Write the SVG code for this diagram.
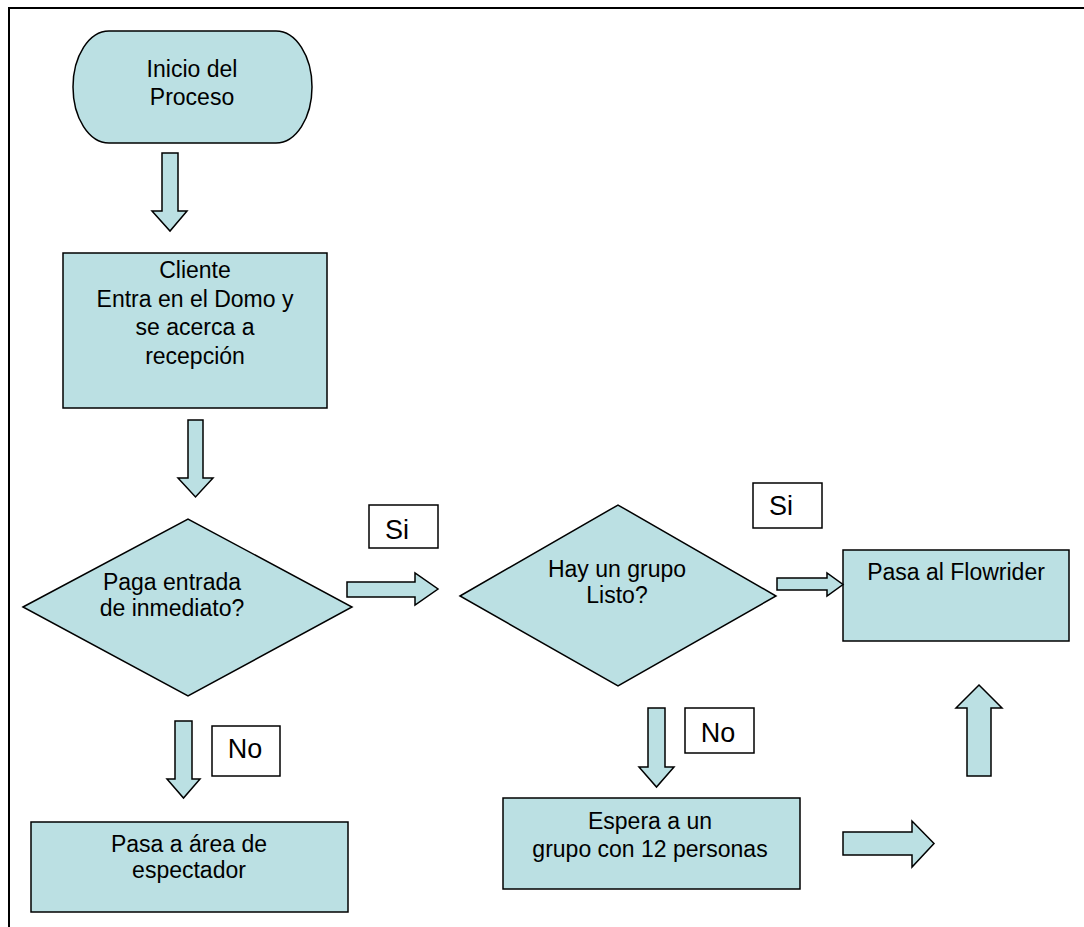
<svg xmlns="http://www.w3.org/2000/svg" width="1084" height="927" viewBox="0 0 1084 927">
<style>
.shape{fill:#BBE0E3;stroke:#000;stroke-width:1.5}
.arrow{fill:#BBE0E3;stroke:#000;stroke-width:1.5;stroke-linejoin:miter}
.lbl{fill:#fff;stroke:#000;stroke-width:1.5}
text{font-family:"Liberation Sans",Arial,sans-serif;fill:#000}
.t{font-size:23px;text-anchor:middle}
.lt{font-size:27px;text-anchor:middle}
</style>
<rect x="0" y="0" width="1084" height="927" fill="#fff"/>
<path d="M9 927 V8 H1084" fill="none" stroke="#000" stroke-width="2"/>

<g id="inicio">
<rect class="shape" x="73" y="31" width="239" height="112" rx="36" ry="56"/>
<text class="t" x="192" y="77">Inicio del</text>
<text class="t" x="192" y="105">Proceso</text>
</g>

<g id="cliente">
<rect class="shape" x="63" y="253" width="264" height="155"/>
<text class="t" x="195" y="278">Cliente</text>
<text class="t" x="195" y="306.5">Entra en el Domo y</text>
<text class="t" x="195" y="335">se acerca a</text>
<text class="t" x="195" y="363.5">recepción</text>
</g>

<g id="paga">
<polygon class="shape" points="23,607 188,519 352,607 188,696"/>
<text class="t" x="172" y="590">Paga entrada</text>
<text class="t" x="172" y="616">de inmediato?</text>
</g>

<g id="grupo">
<polygon class="shape" points="460,596 618,505 776,596 618,686"/>
<text class="t" x="617" y="577">Hay un grupo</text>
<text class="t" x="617" y="603">Listo?</text>
</g>

<g id="flowrider">
<rect class="shape" x="843" y="550" width="226" height="91"/>
<text class="t" x="956" y="580">Pasa al Flowrider</text>
</g>

<g id="espera">
<rect class="shape" x="503" y="798" width="297" height="91"/>
<text class="t" x="650" y="829">Espera a un</text>
<text class="t" x="650" y="857">grupo con 12 personas</text>
</g>

<g id="espectador">
<rect class="shape" x="31" y="822" width="317" height="90"/>
<text class="t" x="189" y="852">Pasa a área de</text>
<text class="t" x="189" y="878">espectador</text>
</g>

<g id="label-si-1">
<rect class="lbl" x="369" y="505" width="69" height="43"/>
<text class="lt" x="397" y="539">Si</text>
</g>
<g id="label-si-2">
<rect class="lbl" x="753" y="483" width="69" height="45"/>
<text class="lt" x="781" y="515">Si</text>
</g>
<g id="label-no-1">
<rect class="lbl" x="212" y="726" width="68" height="50"/>
<text class="lt" x="245" y="758">No</text>
</g>
<g id="label-no-2">
<rect class="lbl" x="685" y="708" width="69" height="45"/>
<text class="lt" x="718" y="742">No</text>
</g>

<g id="connectors">
<polygon class="arrow" points="162,153 178,153 178,211 187,211 170,231 152,211 162,211"/>
<polygon class="arrow" points="188,420 203,420 203,478 213,478 195.5,497 178,478 188,478"/>
<polygon class="arrow" points="347,582 415,582 415,573 438,589 415,605 415,597 347,597"/>
<polygon class="arrow" points="777,578 827,578 827,573 843,584.5 827,596 827,590 777,590"/>
<polygon class="arrow" points="175,721 192,721 192,779 200,779 183.5,798 167,779 175,779"/>
<polygon class="arrow" points="648,708 665,708 665,767 674,767 656.5,787 639,767 648,767"/>
<polygon class="arrow" points="843,832 912,832 912,821 934,843.5 912,867 912,855 843,855"/>
<polygon class="arrow" points="979,685 1002,708 991,708 991,776 967,776 967,708 956,708"/>
</g>
</svg>
